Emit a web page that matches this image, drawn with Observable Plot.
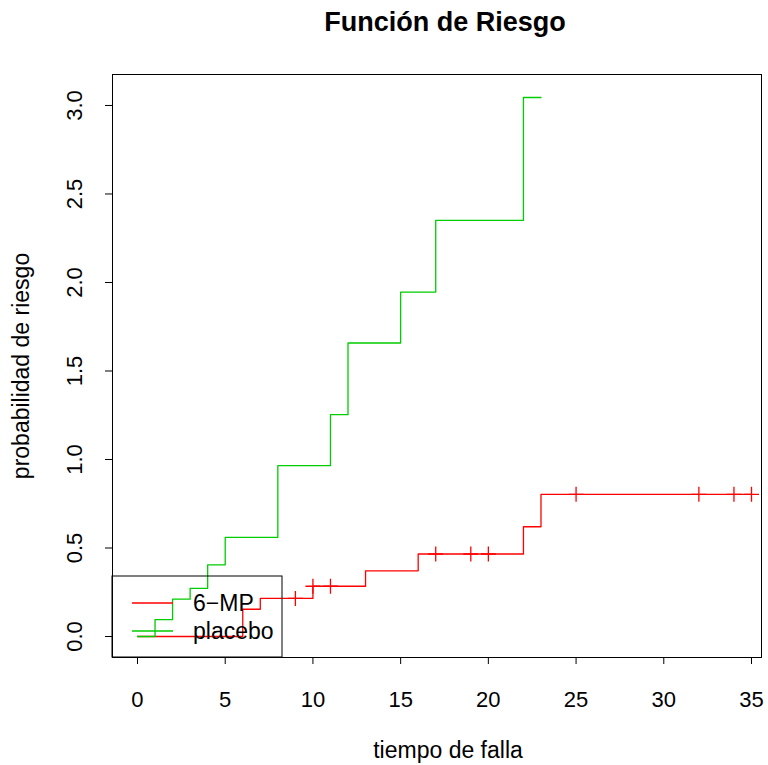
<!DOCTYPE html>
<html>
<head>
<meta charset="utf-8">
<script src="https://cdn.jsdelivr.net/npm/d3@7"></script>
<script src="https://cdn.jsdelivr.net/npm/@observablehq/plot@0.6"></script>
<style>
  body { margin: 0; background: white; }
  #chart { width: 768px; height: 765px; }
</style>
</head>
<body>
<div id="chart"></div>
<script>
const placeboTime = [0, 1, 2, 3, 4, 5, 8, 11, 12, 15, 17, 22, 23];
const placeboHaz  = [0, 0.095, 0.211, 0.272, 0.405, 0.560, 0.965, 1.253, 1.658, 1.946, 2.351, 3.045, 3.045];
const mpTime = [0, 6, 7, 10, 13, 16, 22, 23, 35];
const mpHaz  = [0, 0.154, 0.215, 0.284, 0.371, 0.466, 0.620, 0.803, 0.803];
const censorTime = [9, 10, 11, 17, 19, 20, 25, 32, 34, 35];
const censorHaz  = [0.215, 0.284, 0.284, 0.466, 0.466, 0.466, 0.803, 0.803, 0.803, 0.803];
const xTicks = [0, 5, 10, 15, 20, 25, 30, 35];
const yTicks = [0, 0.5, 1.0, 1.5, 2.0, 2.5, 3.0];
const legendLabels = ["6\u2212MP", "placebo"];
const seriesColors = ["#FF0000", "#00CD00"];

const placebo = placeboTime.map((t, i) => ({t, h: placeboHaz[i]}));
const mp = mpTime.map((t, i) => ({t, h: mpHaz[i]}));
const censor = censorTime.map((t, i) => ({t, h: censorHaz[i]}));

const plusSymbol = {
  draw(ctx, size) {
    const r = Math.sqrt(size / Math.PI);
    ctx.moveTo(-r, 0); ctx.lineTo(r, 0);
    ctx.moveTo(0, -r); ctx.lineTo(0, r);
  }
};

const font = "'Liberation Sans', Arial, Helvetica, sans-serif";

const plot = Plot.plot({
  width: 768,
  height: 765,
  marginLeft: 112,
  marginRight: 7,
  marginTop: 74,
  marginBottom: 108,
  style: {fontFamily: font, fontSize: "22px", background: "white", color: "black"},
  x: {domain: [-1.425, 35.57], ticks: xTicks, tickSize: 7, tickFormat: () => "", label: null},
  y: {domain: [-0.1186, 3.175], ticks: yTicks, tickSize: 7, tickFormat: () => "", label: null},
  marks: [
    Plot.frame({stroke: "black", strokeWidth: 1}),
    Plot.line(mp, {x: "t", y: "h", curve: "step-after", stroke: seriesColors[0], strokeWidth: 1.3}),
    Plot.line(placebo, {x: "t", y: "h", curve: "step-after", stroke: seriesColors[1], strokeWidth: 1.3}),
    Plot.dot(censor, {x: "t", y: "h", symbol: plusSymbol, r: 7.5, stroke: seriesColors[0], strokeWidth: 1.3, fill: "none"}),
    Plot.text(xTicks, {x: d => d, frameAnchor: "bottom", dy: 42, text: d => String(d), fontSize: 22, lineAnchor: "middle", fill: "black"}),
    Plot.text(yTicks, {y: d => d, frameAnchor: "left", dx: -38, rotate: -90, text: d => d3.format(".1f")(d), fontSize: 22, textAnchor: "middle", lineAnchor: "middle", fill: "black"}),
    Plot.text(["Funci\u00f3n de Riesgo"], {frameAnchor: "top", dx: 8, dy: -52, text: d => d, fontSize: 27, fontWeight: "bold", lineAnchor: "middle", fill: "black"}),
    Plot.text(["tiempo de falla"], {frameAnchor: "bottom", dx: 11, dy: 93, text: d => d, fontSize: 23, lineAnchor: "middle", fill: "black"}),
    Plot.text(["probabilidad de riesgo"], {frameAnchor: "left", dx: -91, rotate: -90, text: d => d, fontSize: 23, textAnchor: "middle", lineAnchor: "middle", fill: "black"})
  ]
});

document.getElementById("chart").appendChild(plot);

// Legend (drawn in the frame's bottom-left corner)
const svg = d3.select(plot);
const g = svg.append("g").attr("font-family", font).attr("font-size", 23).attr("text-anchor", "start");
g.append("rect").attr("x", 112).attr("y", 576).attr("width", 170).attr("height", 81)
  .attr("fill", "none").attr("stroke", "black").attr("stroke-width", 1);
legendLabels.forEach((lab, i) => {
  const y = 603 + i * 28;
  g.append("line").attr("x1", 132).attr("x2", 173).attr("y1", y).attr("y2", y)
    .attr("stroke", seriesColors[i]).attr("stroke-width", 1.3);
  g.append("text").attr("x", 193).attr("y", y).attr("dy", "0.35em").attr("fill", "black").attr("text-anchor", "start").text(lab);
});
</script>
</body>
</html>
